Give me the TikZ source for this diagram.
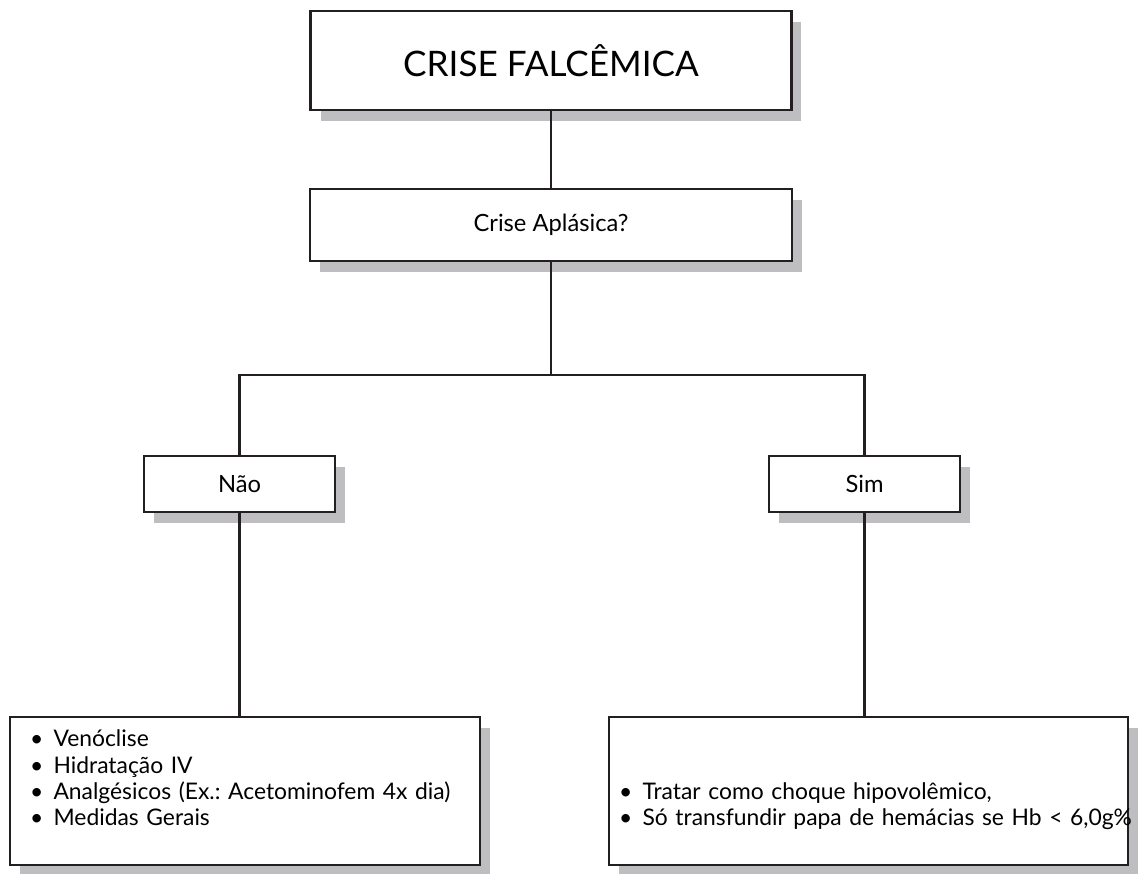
\documentclass[tikz,border=0pt]{standalone}
\usepackage{fontspec}
\setmainfont{Lato}
\usetikzlibrary{shadows}
\definecolor{shade}{RGB}{190,190,192}
\definecolor{ink}{RGB}{35,31,32}
\frenchspacing

\begin{document}
\begin{tikzpicture}[x=0.02cm,y=-0.02cm,
  box/.style={draw=ink,line width=1.5pt,fill=white,
    drop shadow={shadow xshift=0.2cm,shadow yshift=-0.22cm,opacity=1,fill=shade}},
  link/.style={draw=ink,line width=1.4pt},
  small/.style={font=\fontsize{13.5}{16}\selectfont},
  listbox/.style={box,align=left,inner xsep=0.4cm,font=\fontsize{13}{15}\selectfont}]
\useasboundingbox (0,0) rectangle (1144,874);
\node[box,minimum width=9.62cm,minimum height=1.98cm,font=\fontsize{20}{24}\selectfont] (crise) at (551,60.5) {CRISE FALCÊMICA};
\node[box,small,minimum width=9.64cm,minimum height=1.44cm] (aplasica) at (551,225) {Crise Aplásica?};
\node[box,small,minimum width=3.82cm,minimum height=1.12cm] (nao) at (239.5,484) {Não};
\node[box,small,minimum width=3.82cm,minimum height=1.12cm] (sim) at (864.5,484) {Sim};
\node[listbox,text width=8.6cm,minimum height=2.96cm] (tratnao) at (245,791) {%
  \textbullet\hspace{0.45em}Venóclise\\
  \textbullet\hspace{0.45em}Hidratação IV\\
  \mbox{\textbullet\hspace{0.45em}Analgésicos (Ex.: Acetominofem 4x dia)}\\
  \textbullet\hspace{0.45em}Medidas Gerais\\ \mbox{}};
\node[listbox,inner xsep=0.2cm,text width=9.98cm,minimum height=2.96cm] (tratsim) at (868.5,791) {%
  \mbox{\vphantom{Vó}}\\ \mbox{}\\
  \textbullet\hspace{0.45em}Tratar como choque hipovolêmico,\\
  \mbox{\textbullet\hspace{0.45em}Só transfundir papa de hemácias se Hb < 6,0g\%}\\ \mbox{}};
\coordinate (bar) at (551,375);
\draw[link] (crise) -- (aplasica);
\draw[link] (aplasica) -- (bar);
\draw[link] (nao.north) |- (bar) -| (sim.north);
\draw[link] (nao) -- (tratnao.north -| nao);
\draw[link] (sim) -- (tratsim.north -| sim);
\end{tikzpicture}
\end{document}
